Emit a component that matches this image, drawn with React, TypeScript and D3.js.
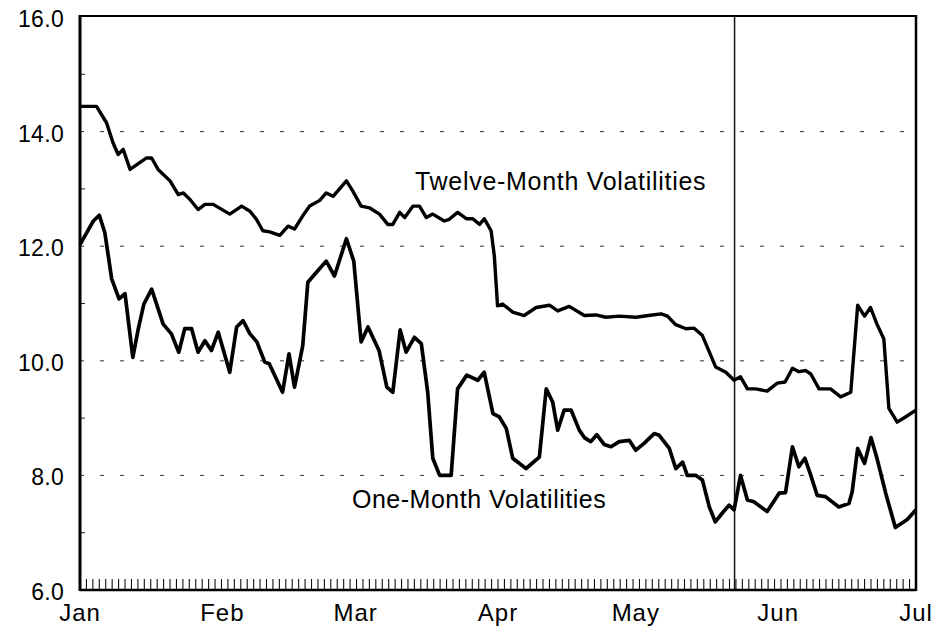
import * as d3 from 'd3';
import React from 'react';

// x values are calendar days after Jan 1 (leap year, Jul 1 = day 182)
const monthLabels = ['Jan', 'Feb', 'Mar', 'Apr', 'May', 'Jun', 'Jul'];
const monthStarts = [0, 31, 60, 91, 121, 152, 182];
const yTicks = [6, 8, 10, 12, 14, 16];
const yMinorTicks = [7, 9, 11, 13, 15];
const tradingDays = 130;
const eventDay = 142.5;

const twelveMonth: [number, number][] = [
  [0, 14.44], [3.6, 14.44], [5.8, 14.15], [7.2, 13.8], [8.3, 13.6], [9.4, 13.69],
  [10.9, 13.34], [13, 13.46], [14.5, 13.54], [15.6, 13.54], [17, 13.34], [19.6, 13.14],
  [21.4, 12.9], [22.5, 12.93], [23.9, 12.82], [25.7, 12.64], [27.2, 12.73], [29, 12.73],
  [32.6, 12.56], [35.2, 12.7], [37, 12.61], [38.4, 12.47], [39.8, 12.27], [41.3, 12.25],
  [43.5, 12.19], [45.3, 12.35], [46.7, 12.3], [48.5, 12.53], [50, 12.7], [52.2, 12.8],
  [53.6, 12.93], [55.1, 12.87], [58, 13.14], [59.4, 12.96], [61.2, 12.7], [63, 12.67],
  [65.2, 12.56], [67, 12.38], [68.1, 12.38], [69.6, 12.59], [70.7, 12.5], [72.5, 12.7],
  [73.9, 12.7], [75.4, 12.5], [76.8, 12.56], [79.3, 12.44], [80.4, 12.47], [82.2, 12.59],
  [84.1, 12.48], [85.5, 12.48], [87, 12.38], [88, 12.48], [89.5, 12.27], [90.2, 11.83],
  [90.9, 10.96], [92, 10.99], [94.2, 10.85], [96.7, 10.79], [99.3, 10.93], [102.2, 10.97],
  [104, 10.87], [106.5, 10.95], [109.8, 10.79], [112.3, 10.8], [114.5, 10.76], [117.4, 10.78],
  [121, 10.76], [124.6, 10.8], [126.5, 10.82], [127.9, 10.78], [129.7, 10.63], [131.9, 10.56],
  [133.7, 10.57], [135.5, 10.44], [138.4, 9.89], [140.6, 9.8], [142.4, 9.66], [143.8, 9.72],
  [145.3, 9.51], [147.1, 9.51], [149.6, 9.47], [151.8, 9.61], [153.5, 9.63], [155.1, 9.87],
  [156.5, 9.81], [158, 9.83], [159.1, 9.77], [160.9, 9.51], [163.4, 9.51], [165.6, 9.37],
  [167.8, 9.45], [169.3, 10.97], [170.8, 10.78], [172.1, 10.93], [173.5, 10.64], [175, 10.38],
  [176.1, 9.17], [177.9, 8.93], [179.7, 9.02], [182, 9.14],
];

const oneMonth: [number, number][] = [
  [0, 12.03], [1.5, 12.24], [2.9, 12.44], [4.2, 12.54], [5.4, 12.24], [6.9, 11.43],
  [8.5, 11.08], [9.8, 11.17], [11.5, 10.06], [12.7, 10.56], [13.9, 10.99], [15.6, 11.25],
  [18.1, 10.64], [19.9, 10.47], [21.5, 10.15], [22.8, 10.56], [24.3, 10.56], [25.7, 10.15],
  [27.2, 10.35], [28.6, 10.18], [30.1, 10.5], [32.6, 9.8], [34.1, 10.59], [35.5, 10.7],
  [37, 10.47], [38.5, 10.33], [40.2, 9.98], [41.2, 9.95], [44.1, 9.45], [45.5, 10.12],
  [46.7, 9.54], [48.5, 10.27], [49.6, 11.37], [51.1, 11.51], [53.6, 11.74], [55.4, 11.48],
  [58, 12.13], [59.6, 11.74], [61.2, 10.33], [62.7, 10.59], [65.1, 10.18], [66.8, 9.54],
  [68.1, 9.45], [69.7, 10.54], [71, 10.15], [72.8, 10.41], [74.3, 10.3], [75.7, 9.45],
  [76.8, 8.3], [78.3, 8.0], [80.8, 8.0], [82.2, 9.51], [84.2, 9.75], [86.6, 9.66],
  [88, 9.8], [89.9, 9.08], [91.3, 9.02], [92.8, 8.82], [94.2, 8.3], [97.1, 8.12],
  [100, 8.32], [101.5, 9.51], [102.9, 9.28], [104, 8.79], [105.4, 9.14], [106.9, 9.14],
  [108.7, 8.79], [109.8, 8.66], [111.2, 8.59], [112.5, 8.71], [114.1, 8.54], [115.6, 8.5],
  [117.4, 8.59], [119.6, 8.61], [121, 8.44], [122.8, 8.56], [125, 8.73], [126.1, 8.7],
  [128.3, 8.47], [129.7, 8.12], [131.2, 8.23], [132.2, 8.0], [134.1, 8.0], [135.5, 7.92],
  [137, 7.45], [138.3, 7.19], [139.8, 7.34], [141.3, 7.48], [142.4, 7.4], [143.8, 8.0],
  [145.3, 7.57], [146.7, 7.54], [149.6, 7.37], [152.2, 7.69], [153.6, 7.7], [155.1, 8.5],
  [156.5, 8.15], [157.8, 8.3], [159.1, 8.0], [160.5, 7.65], [162.3, 7.63], [165.2, 7.45],
  [167.4, 7.51], [168.1, 7.71], [169.3, 8.47], [170.8, 8.21], [172.2, 8.66], [173.5, 8.3],
  [175.4, 7.69], [177.5, 7.09], [180.1, 7.23], [182, 7.4],
];

const font = '"Liberation Sans", Arial, Helvetica, sans-serif';

const App: React.FC = () => {
  const width = 949;
  const height = 628;
  const left = 80;
  const right = 916;
  const top = 17;
  const bottom = 590;

  const x = d3.scaleLinear().domain([0, 182]).range([left, right]);
  const y = d3.scaleLinear().domain([6, 16]).range([bottom, top]);

  const line = d3.line<[number, number]>()
    .x(d => x(d[0]))
    .y(d => y(d[1]));

  const tickPos = d3.range(tradingDays + 1).map(i => (i * 182) / tradingDays);

  return (
    <svg width={width} height={height} style={{ position: 'absolute', left: 0, top: 0, background: '#fff' }}>
      {/* dashed gridlines */}
      {yTicks.filter(v => v > 6 && v < 16).map(v => (
        <line key={'g' + v} x1={left} x2={right} y1={y(v)} y2={y(v)}
          stroke="#333" strokeWidth={1} strokeDasharray="4,16" />
      ))}
      {yMinorTicks.map(v => (
        <line key={'m' + v} x1={left} x2={left + 5} y1={y(v)} y2={y(v)} stroke="#222" strokeWidth={1} />
      ))}
      {/* trading-day ticks */}
      {tickPos.map((d, i) => (
        <line key={'t' + i} x1={x(d)} x2={x(d)} y1={bottom} y2={bottom - 11} stroke="#111" strokeWidth={1.1} />
      ))}
      {/* event line */}
      <line x1={x(eventDay)} x2={x(eventDay)} y1={top} y2={bottom} stroke="#111" strokeWidth={1.5} />

      <path d={line(twelveMonth) || ''} fill="none" stroke="#000" strokeWidth={3.4} strokeLinejoin="round" />
      <path d={line(oneMonth) || ''} fill="none" stroke="#000" strokeWidth={3.7} strokeLinejoin="round" />

      {/* frame */}
      <line x1={left} x2={right} y1={top - 1} y2={top - 1} stroke="#000" strokeWidth={2.2} />
      <line x1={left} x2={left} y1={top - 2} y2={bottom + 1} stroke="#000" strokeWidth={3} />
      <line x1={right} x2={right} y1={top - 2} y2={bottom + 1} stroke="#000" strokeWidth={2.5} />
      <line x1={left} x2={right} y1={bottom} y2={bottom} stroke="#000" strokeWidth={2.5} />

      {yTicks.map(v => (
        <text key={'y' + v} x={64} y={y(v) + 10} textAnchor="end" fontFamily={font}
          fontSize={23} letterSpacing={0.3} fill="#000">{v.toFixed(1)}</text>
      ))}
      {monthLabels.map((m, i) => (
        <text key={m} x={x(monthStarts[i])} y={621} textAnchor="middle" fontFamily={font}
          fontSize={24} letterSpacing={1} fill="#000">{m}</text>
      ))}

      <text x={415} y={190} fontFamily={font} fontSize={25} letterSpacing={0.7} fill="#000">
        Twelve-Month Volatilities
      </text>
      <text x={352} y={508} fontFamily={font} fontSize={25} letterSpacing={0.5} fill="#000">
        One-Month Volatilities
      </text>
    </svg>
  );
};

export default App;
